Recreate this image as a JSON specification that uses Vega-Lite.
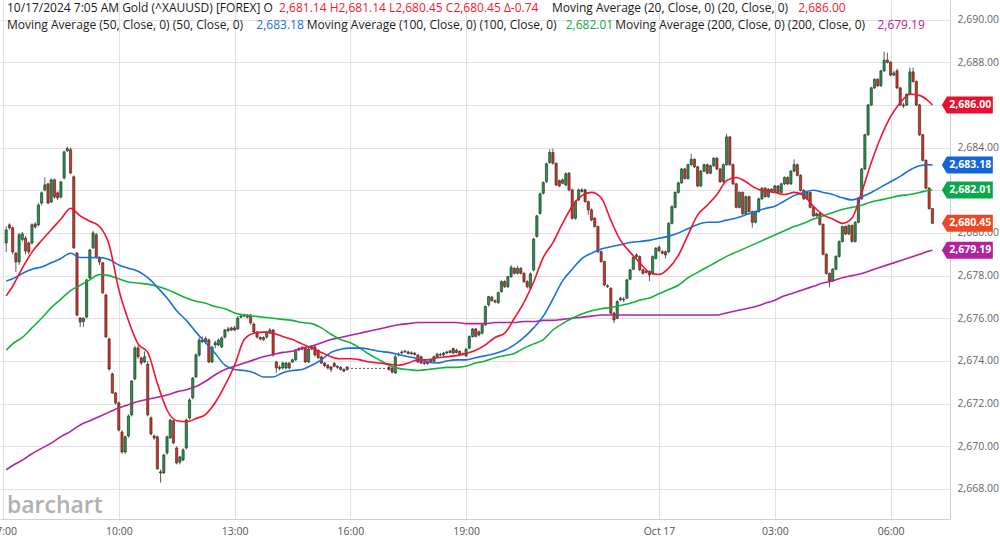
{
"$schema":"https://vega.github.io/schema/vega-lite/v6.json",
"width":950,"height":519,
"autosize":{"type":"none"},
"padding":{"left":0,"top":0,"right":50,"bottom":22},
"background":"white",
"config":{"view":{"stroke":null},"font":"Open Sans",
 "axis":{"title":null,"grid":true,"gridColor":"#e2e2e2","gridWidth":1,"domain":true,"domainColor":"#d0d0d0","ticks":false,"tickSize":0,"labelPadding":7,"labelFontSize":10.5,"labelFont":"Open Sans","labelOverlap":false,"labelFlush":false,"labelBound":false}},
"datasets":{
"candles":[
{"t":"2024-10-16T07:05Z","o":2679.53,"h":2680.3,"l":2679.1,"c":2680.14},
{"t":"2024-10-16T07:10Z","o":2680.38,"h":2680.45,"l":2680.15,"c":2680.24},
{"t":"2024-10-16T07:15Z","o":2680.24,"h":2680.3,"l":2679.0,"c":2679.11},
{"t":"2024-10-16T07:20Z","o":2679.06,"h":2679.1,"l":2678.17,"c":2678.64},
{"t":"2024-10-16T07:25Z","o":2678.64,"h":2680.0,"l":2678.5,"c":2679.91},
{"t":"2024-10-16T07:30Z","o":2679.7,"h":2680.05,"l":2679.6,"c":2679.95},
{"t":"2024-10-16T07:35Z","o":2679.76,"h":2679.85,"l":2679.0,"c":2679.15},
{"t":"2024-10-16T07:40Z","o":2679.53,"h":2679.6,"l":2679.0,"c":2679.11},
{"t":"2024-10-16T07:45Z","o":2679.53,"h":2680.45,"l":2679.45,"c":2680.38},
{"t":"2024-10-16T07:50Z","o":2680.42,"h":2680.5,"l":2680.2,"c":2680.28},
{"t":"2024-10-16T07:55Z","o":2680.38,"h":2681.4,"l":2680.3,"c":2681.31},
{"t":"2024-10-16T08:00Z","o":2681.4,"h":2681.95,"l":2681.3,"c":2681.88},
{"t":"2024-10-16T08:05Z","o":2682.02,"h":2682.6,"l":2681.95,"c":2682.25},
{"t":"2024-10-16T08:10Z","o":2682.3,"h":2682.35,"l":2681.35,"c":2681.4},
{"t":"2024-10-16T08:15Z","o":2681.45,"h":2682.55,"l":2681.4,"c":2682.49},
{"t":"2024-10-16T08:20Z","o":2682.49,"h":2682.55,"l":2681.6,"c":2681.69},
{"t":"2024-10-16T08:25Z","o":2681.88,"h":2681.95,"l":2681.55,"c":2681.64},
{"t":"2024-10-16T08:30Z","o":2681.69,"h":2682.45,"l":2681.6,"c":2682.39},
{"t":"2024-10-16T08:35Z","o":2682.58,"h":2683.85,"l":2682.5,"c":2683.8},
{"t":"2024-10-16T08:40Z","o":2683.85,"h":2684.05,"l":2683.8,"c":2683.95},
{"t":"2024-10-16T08:45Z","o":2683.9,"h":2684.0,"l":2682.75,"c":2682.81},
{"t":"2024-10-16T08:50Z","o":2682.63,"h":2682.7,"l":2679.25,"c":2679.3},
{"t":"2024-10-16T08:55Z","o":2679.06,"h":2679.1,"l":2676.1,"c":2676.15},
{"t":"2024-10-16T09:00Z","o":2676.01,"h":2676.05,"l":2675.59,"c":2675.82},
{"t":"2024-10-16T09:05Z","o":2675.85,"h":2676.05,"l":2675.6,"c":2676.0},
{"t":"2024-10-16T09:10Z","o":2676.06,"h":2677.85,"l":2676.0,"c":2677.8},
{"t":"2024-10-16T09:15Z","o":2677.89,"h":2679.25,"l":2677.85,"c":2679.2},
{"t":"2024-10-16T09:20Z","o":2679.3,"h":2680.1,"l":2679.25,"c":2680.0},
{"t":"2024-10-16T09:25Z","o":2679.91,"h":2680.0,"l":2678.8,"c":2678.83},
{"t":"2024-10-16T09:30Z","o":2678.83,"h":2678.9,"l":2678.5,"c":2678.64},
{"t":"2024-10-16T09:35Z","o":2678.6,"h":2678.65,"l":2677.15,"c":2677.19},
{"t":"2024-10-16T09:40Z","o":2677.09,"h":2677.15,"l":2675.1,"c":2675.12},
{"t":"2024-10-16T09:45Z","o":2675.03,"h":2675.1,"l":2673.55,"c":2673.62},
{"t":"2024-10-16T09:50Z","o":2673.39,"h":2673.45,"l":2672.45,"c":2672.5},
{"t":"2024-10-16T09:55Z","o":2672.5,"h":2672.55,"l":2671.95,"c":2672.03},
{"t":"2024-10-16T10:00Z","o":2672.03,"h":2672.1,"l":2670.7,"c":2670.76},
{"t":"2024-10-16T10:05Z","o":2670.67,"h":2670.75,"l":2669.65,"c":2669.73},
{"t":"2024-10-16T10:10Z","o":2669.73,"h":2670.5,"l":2669.65,"c":2670.44},
{"t":"2024-10-16T10:15Z","o":2670.48,"h":2671.5,"l":2670.4,"c":2671.42},
{"t":"2024-10-16T10:20Z","o":2671.47,"h":2673.1,"l":2671.4,"c":2673.06},
{"t":"2024-10-16T10:25Z","o":2673.16,"h":2674.7,"l":2673.1,"c":2674.61},
{"t":"2024-10-16T10:30Z","o":2674.61,"h":2674.75,"l":2674.1,"c":2674.19},
{"t":"2024-10-16T10:35Z","o":2674.14,"h":2674.2,"l":2673.8,"c":2673.9},
{"t":"2024-10-16T10:40Z","o":2673.95,"h":2674.45,"l":2673.9,"c":2674.2},
{"t":"2024-10-16T10:45Z","o":2673.85,"h":2674.0,"l":2671.4,"c":2671.47},
{"t":"2024-10-16T10:50Z","o":2671.33,"h":2671.4,"l":2670.5,"c":2670.58},
{"t":"2024-10-16T10:55Z","o":2670.48,"h":2670.55,"l":2670.3,"c":2670.39},
{"t":"2024-10-16T11:00Z","o":2670.44,"h":2670.5,"l":2668.9,"c":2668.94},
{"t":"2024-10-16T11:05Z","o":2668.8,"h":2668.9,"l":2668.3,"c":2668.75},
{"t":"2024-10-16T11:10Z","o":2668.75,"h":2669.65,"l":2668.7,"c":2669.59},
{"t":"2024-10-16T11:15Z","o":2669.69,"h":2670.5,"l":2669.6,"c":2670.44},
{"t":"2024-10-16T11:20Z","o":2670.39,"h":2671.3,"l":2670.35,"c":2671.23},
{"t":"2024-10-16T11:25Z","o":2671.19,"h":2671.25,"l":2670.1,"c":2670.16},
{"t":"2024-10-16T11:30Z","o":2669.92,"h":2670.0,"l":2669.15,"c":2669.22},
{"t":"2024-10-16T11:35Z","o":2669.26,"h":2669.55,"l":2669.15,"c":2669.5},
{"t":"2024-10-16T11:40Z","o":2669.36,"h":2669.9,"l":2669.3,"c":2669.83},
{"t":"2024-10-16T11:45Z","o":2669.92,"h":2671.3,"l":2669.85,"c":2671.23},
{"t":"2024-10-16T11:50Z","o":2671.33,"h":2672.25,"l":2671.25,"c":2672.17},
{"t":"2024-10-16T11:55Z","o":2672.27,"h":2673.25,"l":2672.2,"c":2673.2},
{"t":"2024-10-16T12:00Z","o":2673.25,"h":2674.35,"l":2673.2,"c":2674.28},
{"t":"2024-10-16T12:05Z","o":2674.28,"h":2675.1,"l":2674.2,"c":2674.98},
{"t":"2024-10-16T12:10Z","o":2674.98,"h":2675.15,"l":2674.85,"c":2674.9},
{"t":"2024-10-16T12:15Z","o":2675.05,"h":2675.15,"l":2674.8,"c":2674.9},
{"t":"2024-10-16T12:20Z","o":2674.98,"h":2675.05,"l":2673.9,"c":2673.95},
{"t":"2024-10-16T12:25Z","o":2673.95,"h":2674.7,"l":2673.9,"c":2674.65},
{"t":"2024-10-16T12:30Z","o":2674.75,"h":2674.95,"l":2674.6,"c":2674.85},
{"t":"2024-10-16T12:35Z","o":2674.75,"h":2675.05,"l":2674.7,"c":2674.98},
{"t":"2024-10-16T12:40Z","o":2674.66,"h":2675.15,"l":2674.6,"c":2675.08},
{"t":"2024-10-16T12:45Z","o":2675.12,"h":2675.5,"l":2675.05,"c":2675.45},
{"t":"2024-10-16T12:50Z","o":2675.5,"h":2675.6,"l":2675.35,"c":2675.42},
{"t":"2024-10-16T12:55Z","o":2675.45,"h":2675.6,"l":2675.4,"c":2675.55},
{"t":"2024-10-16T13:00Z","o":2675.55,"h":2675.65,"l":2675.4,"c":2675.45},
{"t":"2024-10-16T13:05Z","o":2675.5,"h":2676.1,"l":2675.45,"c":2676.01},
{"t":"2024-10-16T13:10Z","o":2676.05,"h":2676.2,"l":2676.0,"c":2676.1},
{"t":"2024-10-16T13:15Z","o":2676.1,"h":2676.22,"l":2676.05,"c":2676.15},
{"t":"2024-10-16T13:20Z","o":2676.15,"h":2676.2,"l":2676.0,"c":2676.05},
{"t":"2024-10-16T13:25Z","o":2676.15,"h":2676.2,"l":2675.7,"c":2675.78},
{"t":"2024-10-16T13:30Z","o":2675.73,"h":2675.8,"l":2675.3,"c":2675.36},
{"t":"2024-10-16T13:35Z","o":2675.36,"h":2675.4,"l":2675.05,"c":2675.12},
{"t":"2024-10-16T13:40Z","o":2675.1,"h":2675.15,"l":2674.95,"c":2675.03},
{"t":"2024-10-16T13:45Z","o":2675.1,"h":2675.15,"l":2674.95,"c":2675.0},
{"t":"2024-10-16T13:50Z","o":2675.12,"h":2675.4,"l":2675.05,"c":2675.36},
{"t":"2024-10-16T13:55Z","o":2675.31,"h":2675.55,"l":2675.25,"c":2675.45},
{"t":"2024-10-16T14:00Z","o":2675.45,"h":2675.5,"l":2674.2,"c":2674.28},
{"t":"2024-10-16T14:05Z","o":2673.95,"h":2674.0,"l":2673.44,"c":2673.67},
{"t":"2024-10-16T14:10Z","o":2673.65,"h":2673.8,"l":2673.55,"c":2673.7},
{"t":"2024-10-16T14:15Z","o":2673.67,"h":2673.95,"l":2673.6,"c":2673.9},
{"t":"2024-10-16T14:20Z","o":2673.67,"h":2673.95,"l":2673.6,"c":2673.9},
{"t":"2024-10-16T14:25Z","o":2673.9,"h":2673.95,"l":2673.6,"c":2673.67},
{"t":"2024-10-16T14:30Z","o":2673.95,"h":2674.1,"l":2673.9,"c":2674.05},
{"t":"2024-10-16T14:35Z","o":2674.05,"h":2674.55,"l":2674.0,"c":2674.52},
{"t":"2024-10-16T14:40Z","o":2674.52,"h":2674.65,"l":2674.45,"c":2674.58},
{"t":"2024-10-16T14:45Z","o":2674.55,"h":2674.7,"l":2674.5,"c":2674.62},
{"t":"2024-10-16T14:50Z","o":2674.61,"h":2674.65,"l":2673.9,"c":2673.95},
{"t":"2024-10-16T14:55Z","o":2673.95,"h":2674.65,"l":2673.9,"c":2674.56},
{"t":"2024-10-16T15:00Z","o":2674.56,"h":2674.75,"l":2674.5,"c":2674.66},
{"t":"2024-10-16T15:05Z","o":2674.66,"h":2674.7,"l":2674.2,"c":2674.28},
{"t":"2024-10-16T15:10Z","o":2674.5,"h":2674.55,"l":2674.1,"c":2674.15},
{"t":"2024-10-16T15:15Z","o":2674.19,"h":2674.25,"l":2673.85,"c":2673.9},
{"t":"2024-10-16T15:20Z","o":2673.9,"h":2673.95,"l":2673.7,"c":2673.78},
{"t":"2024-10-16T15:25Z","o":2673.8,"h":2673.85,"l":2673.6,"c":2673.67},
{"t":"2024-10-16T15:30Z","o":2673.72,"h":2673.75,"l":2673.48,"c":2673.6},
{"t":"2024-10-16T15:35Z","o":2673.88,"h":2673.95,"l":2673.7,"c":2673.75},
{"t":"2024-10-16T15:40Z","o":2673.75,"h":2673.8,"l":2673.62,"c":2673.7},
{"t":"2024-10-16T15:45Z","o":2673.7,"h":2673.75,"l":2673.55,"c":2673.6},
{"t":"2024-10-16T15:50Z","o":2673.6,"h":2673.65,"l":2673.48,"c":2673.52},
{"t":"2024-10-16T15:55Z","o":2673.6,"h":2673.75,"l":2673.55,"c":2673.72},
{"t":"2024-10-16T17:00Z","o":2673.7,"h":2673.75,"l":2673.55,"c":2673.6},
{"t":"2024-10-16T17:05Z","o":2673.67,"h":2673.7,"l":2673.4,"c":2673.48},
{"t":"2024-10-16T17:10Z","o":2673.43,"h":2674.3,"l":2673.4,"c":2674.19},
{"t":"2024-10-16T17:15Z","o":2674.28,"h":2674.4,"l":2674.2,"c":2674.33},
{"t":"2024-10-16T17:20Z","o":2674.38,"h":2674.5,"l":2674.3,"c":2674.42},
{"t":"2024-10-16T17:25Z","o":2674.42,"h":2674.52,"l":2674.38,"c":2674.45},
{"t":"2024-10-16T17:30Z","o":2674.42,"h":2674.48,"l":2674.3,"c":2674.35},
{"t":"2024-10-16T17:35Z","o":2674.38,"h":2674.45,"l":2674.28,"c":2674.34},
{"t":"2024-10-16T17:40Z","o":2674.36,"h":2674.42,"l":2674.25,"c":2674.3},
{"t":"2024-10-16T17:45Z","o":2674.28,"h":2674.32,"l":2673.9,"c":2673.95},
{"t":"2024-10-16T17:50Z","o":2674.2,"h":2674.25,"l":2673.85,"c":2673.9},
{"t":"2024-10-16T17:55Z","o":2673.92,"h":2674.0,"l":2673.8,"c":2673.88},
{"t":"2024-10-16T18:00Z","o":2673.95,"h":2674.0,"l":2673.82,"c":2673.88},
{"t":"2024-10-16T18:05Z","o":2673.97,"h":2674.1,"l":2673.9,"c":2674.05},
{"t":"2024-10-16T18:10Z","o":2673.98,"h":2674.25,"l":2673.92,"c":2674.2},
{"t":"2024-10-16T18:15Z","o":2674.2,"h":2674.38,"l":2674.15,"c":2674.32},
{"t":"2024-10-16T18:20Z","o":2674.3,"h":2674.38,"l":2674.22,"c":2674.28},
{"t":"2024-10-16T18:25Z","o":2674.28,"h":2674.42,"l":2674.22,"c":2674.37},
{"t":"2024-10-16T18:30Z","o":2674.37,"h":2674.48,"l":2674.32,"c":2674.42},
{"t":"2024-10-16T18:35Z","o":2674.4,"h":2674.52,"l":2674.35,"c":2674.47},
{"t":"2024-10-16T18:40Z","o":2674.58,"h":2674.62,"l":2674.32,"c":2674.37},
{"t":"2024-10-16T18:45Z","o":2674.4,"h":2674.58,"l":2674.35,"c":2674.5},
{"t":"2024-10-16T18:50Z","o":2674.44,"h":2674.5,"l":2674.22,"c":2674.28},
{"t":"2024-10-16T18:55Z","o":2674.3,"h":2674.4,"l":2674.25,"c":2674.34},
{"t":"2024-10-16T19:00Z","o":2674.23,"h":2674.6,"l":2674.2,"c":2674.55},
{"t":"2024-10-16T19:05Z","o":2674.6,"h":2675.2,"l":2674.55,"c":2675.14},
{"t":"2024-10-16T19:10Z","o":2675.14,"h":2675.55,"l":2675.1,"c":2675.49},
{"t":"2024-10-16T19:15Z","o":2675.5,"h":2675.55,"l":2675.1,"c":2675.15},
{"t":"2024-10-16T19:20Z","o":2675.22,"h":2675.42,"l":2675.15,"c":2675.37},
{"t":"2024-10-16T19:25Z","o":2675.3,"h":2675.75,"l":2675.25,"c":2675.69},
{"t":"2024-10-16T19:30Z","o":2675.69,"h":2676.6,"l":2675.65,"c":2676.55},
{"t":"2024-10-16T19:35Z","o":2676.63,"h":2677.05,"l":2676.55,"c":2677.01},
{"t":"2024-10-16T19:40Z","o":2676.99,"h":2677.05,"l":2676.78,"c":2676.83},
{"t":"2024-10-16T19:45Z","o":2676.82,"h":2676.88,"l":2676.7,"c":2676.77},
{"t":"2024-10-16T19:50Z","o":2676.73,"h":2677.25,"l":2676.68,"c":2677.2},
{"t":"2024-10-16T19:55Z","o":2677.25,"h":2677.78,"l":2677.2,"c":2677.72},
{"t":"2024-10-16T20:00Z","o":2677.72,"h":2677.78,"l":2677.42,"c":2677.48},
{"t":"2024-10-16T20:05Z","o":2677.48,"h":2678.0,"l":2677.42,"c":2677.95},
{"t":"2024-10-16T20:10Z","o":2677.95,"h":2678.5,"l":2677.9,"c":2678.39},
{"t":"2024-10-16T20:15Z","o":2678.34,"h":2678.4,"l":2678.05,"c":2678.11},
{"t":"2024-10-16T20:20Z","o":2678.11,"h":2678.45,"l":2678.05,"c":2678.34},
{"t":"2024-10-16T20:25Z","o":2678.34,"h":2678.4,"l":2678.05,"c":2678.11},
{"t":"2024-10-16T20:30Z","o":2678.11,"h":2678.15,"l":2677.65,"c":2677.72},
{"t":"2024-10-16T20:35Z","o":2677.72,"h":2677.78,"l":2677.4,"c":2677.48},
{"t":"2024-10-16T20:40Z","o":2677.41,"h":2678.15,"l":2677.35,"c":2678.08},
{"t":"2024-10-16T20:45Z","o":2678.27,"h":2679.78,"l":2678.2,"c":2679.71},
{"t":"2024-10-16T20:50Z","o":2679.83,"h":2680.85,"l":2679.78,"c":2680.8},
{"t":"2024-10-16T20:55Z","o":2680.92,"h":2681.9,"l":2680.85,"c":2681.83},
{"t":"2024-10-16T21:00Z","o":2681.86,"h":2682.42,"l":2681.8,"c":2682.36},
{"t":"2024-10-16T21:05Z","o":2682.41,"h":2683.3,"l":2682.35,"c":2683.24},
{"t":"2024-10-16T21:10Z","o":2683.3,"h":2683.92,"l":2683.25,"c":2683.77},
{"t":"2024-10-16T21:15Z","o":2683.77,"h":2683.95,"l":2683.2,"c":2683.27},
{"t":"2024-10-16T21:20Z","o":2683.27,"h":2683.3,"l":2682.2,"c":2682.25},
{"t":"2024-10-16T21:25Z","o":2682.45,"h":2682.5,"l":2682.15,"c":2682.2},
{"t":"2024-10-16T21:30Z","o":2682.33,"h":2682.55,"l":2682.28,"c":2682.49},
{"t":"2024-10-16T21:35Z","o":2682.25,"h":2682.85,"l":2682.2,"c":2682.77},
{"t":"2024-10-16T21:40Z","o":2682.8,"h":2682.85,"l":2681.95,"c":2682.02},
{"t":"2024-10-16T21:45Z","o":2682.02,"h":2682.08,"l":2680.62,"c":2680.69},
{"t":"2024-10-16T21:50Z","o":2680.69,"h":2681.55,"l":2680.62,"c":2681.47},
{"t":"2024-10-16T21:55Z","o":2681.55,"h":2682.08,"l":2681.5,"c":2682.02},
{"t":"2024-10-16T22:00Z","o":2681.95,"h":2682.1,"l":2681.9,"c":2682.02},
{"t":"2024-10-16T22:05Z","o":2682.02,"h":2682.08,"l":2681.42,"c":2681.47},
{"t":"2024-10-16T22:10Z","o":2681.47,"h":2681.52,"l":2680.85,"c":2681.08},
{"t":"2024-10-16T22:15Z","o":2681.08,"h":2681.15,"l":2680.55,"c":2680.61},
{"t":"2024-10-16T22:20Z","o":2680.69,"h":2680.75,"l":2680.25,"c":2680.3},
{"t":"2024-10-16T22:25Z","o":2680.3,"h":2680.35,"l":2679.05,"c":2679.12},
{"t":"2024-10-16T22:30Z","o":2679.12,"h":2679.18,"l":2678.6,"c":2678.66},
{"t":"2024-10-16T22:35Z","o":2678.66,"h":2678.7,"l":2677.5,"c":2677.56},
{"t":"2024-10-16T22:40Z","o":2677.52,"h":2677.6,"l":2677.42,"c":2677.48},
{"t":"2024-10-16T22:45Z","o":2677.41,"h":2677.45,"l":2676.18,"c":2676.24},
{"t":"2024-10-16T22:50Z","o":2676.24,"h":2676.3,"l":2675.77,"c":2675.92},
{"t":"2024-10-16T22:55Z","o":2676.0,"h":2676.85,"l":2675.95,"c":2676.78},
{"t":"2024-10-16T23:00Z","o":2676.86,"h":2677.0,"l":2676.8,"c":2676.94},
{"t":"2024-10-16T23:05Z","o":2676.86,"h":2677.0,"l":2676.75,"c":2676.9},
{"t":"2024-10-16T23:10Z","o":2676.94,"h":2677.85,"l":2676.9,"c":2677.8},
{"t":"2024-10-16T23:15Z","o":2677.83,"h":2678.32,"l":2677.78,"c":2678.27},
{"t":"2024-10-16T23:20Z","o":2678.3,"h":2678.92,"l":2678.25,"c":2678.86},
{"t":"2024-10-16T23:25Z","o":2678.89,"h":2679.05,"l":2678.82,"c":2678.97},
{"t":"2024-10-16T23:30Z","o":2678.89,"h":2678.95,"l":2678.2,"c":2678.27},
{"t":"2024-10-16T23:35Z","o":2678.27,"h":2678.32,"l":2678.05,"c":2678.11},
{"t":"2024-10-16T23:40Z","o":2678.15,"h":2678.3,"l":2678.1,"c":2678.2},
{"t":"2024-10-16T23:45Z","o":2678.2,"h":2678.25,"l":2677.75,"c":2678.03},
{"t":"2024-10-16T23:50Z","o":2678.11,"h":2678.95,"l":2678.05,"c":2678.89},
{"t":"2024-10-16T23:55Z","o":2678.81,"h":2679.35,"l":2678.75,"c":2679.28},
{"t":"2024-10-17T00:00Z","o":2679.33,"h":2679.4,"l":2679.1,"c":2679.17},
{"t":"2024-10-17T00:05Z","o":2679.12,"h":2679.2,"l":2679.0,"c":2679.05},
{"t":"2024-10-17T00:10Z","o":2679.12,"h":2679.18,"l":2678.8,"c":2678.97},
{"t":"2024-10-17T00:15Z","o":2679.12,"h":2680.5,"l":2679.05,"c":2680.45},
{"t":"2024-10-17T00:20Z","o":2680.45,"h":2681.3,"l":2680.4,"c":2681.23},
{"t":"2024-10-17T00:25Z","o":2681.2,"h":2681.95,"l":2681.15,"c":2681.9},
{"t":"2024-10-17T00:30Z","o":2681.9,"h":2682.4,"l":2681.85,"c":2682.35},
{"t":"2024-10-17T00:35Z","o":2682.35,"h":2683.05,"l":2682.3,"c":2683.0},
{"t":"2024-10-17T00:40Z","o":2683.0,"h":2683.05,"l":2682.5,"c":2682.55},
{"t":"2024-10-17T00:45Z","o":2682.55,"h":2683.25,"l":2682.5,"c":2683.2},
{"t":"2024-10-17T00:50Z","o":2683.2,"h":2683.7,"l":2683.15,"c":2683.45},
{"t":"2024-10-17T00:55Z","o":2683.45,"h":2683.5,"l":2683.05,"c":2683.1},
{"t":"2024-10-17T01:00Z","o":2683.1,"h":2683.15,"l":2682.15,"c":2682.2},
{"t":"2024-10-17T01:05Z","o":2682.2,"h":2682.95,"l":2682.15,"c":2682.9},
{"t":"2024-10-17T01:10Z","o":2682.9,"h":2683.25,"l":2682.85,"c":2683.2},
{"t":"2024-10-17T01:15Z","o":2683.2,"h":2683.25,"l":2682.75,"c":2682.8},
{"t":"2024-10-17T01:20Z","o":2682.8,"h":2683.2,"l":2682.75,"c":2683.15},
{"t":"2024-10-17T01:25Z","o":2683.15,"h":2683.55,"l":2683.1,"c":2683.5},
{"t":"2024-10-17T01:30Z","o":2683.5,"h":2683.55,"l":2682.95,"c":2683.0},
{"t":"2024-10-17T01:35Z","o":2683.0,"h":2683.05,"l":2682.35,"c":2682.4},
{"t":"2024-10-17T01:40Z","o":2682.4,"h":2683.25,"l":2682.35,"c":2683.2},
{"t":"2024-10-17T01:45Z","o":2683.2,"h":2684.65,"l":2683.15,"c":2684.5},
{"t":"2024-10-17T01:50Z","o":2684.5,"h":2684.55,"l":2683.15,"c":2683.2},
{"t":"2024-10-17T01:55Z","o":2683.2,"h":2683.25,"l":2682.25,"c":2682.3},
{"t":"2024-10-17T02:00Z","o":2682.3,"h":2682.35,"l":2681.15,"c":2681.2},
{"t":"2024-10-17T02:05Z","o":2681.2,"h":2681.95,"l":2681.15,"c":2681.9},
{"t":"2024-10-17T02:10Z","o":2681.9,"h":2681.95,"l":2680.85,"c":2680.9},
{"t":"2024-10-17T02:15Z","o":2680.9,"h":2681.75,"l":2680.85,"c":2681.7},
{"t":"2024-10-17T02:20Z","o":2681.7,"h":2681.75,"l":2680.95,"c":2681.0},
{"t":"2024-10-17T02:25Z","o":2681.0,"h":2681.05,"l":2680.25,"c":2680.5},
{"t":"2024-10-17T02:30Z","o":2680.5,"h":2681.05,"l":2680.45,"c":2681.0},
{"t":"2024-10-17T02:35Z","o":2681.0,"h":2681.65,"l":2680.95,"c":2681.6},
{"t":"2024-10-17T02:40Z","o":2681.6,"h":2682.15,"l":2681.55,"c":2682.1},
{"t":"2024-10-17T02:45Z","o":2682.1,"h":2682.15,"l":2681.65,"c":2681.7},
{"t":"2024-10-17T02:50Z","o":2681.7,"h":2682.1,"l":2681.65,"c":2682.05},
{"t":"2024-10-17T02:55Z","o":2682.05,"h":2682.1,"l":2681.9,"c":2681.95},
{"t":"2024-10-17T03:00Z","o":2681.95,"h":2682.25,"l":2681.9,"c":2682.2},
{"t":"2024-10-17T03:05Z","o":2682.2,"h":2682.25,"l":2681.85,"c":2681.9},
{"t":"2024-10-17T03:10Z","o":2681.9,"h":2682.35,"l":2681.85,"c":2682.3},
{"t":"2024-10-17T03:15Z","o":2682.3,"h":2682.65,"l":2682.25,"c":2682.6},
{"t":"2024-10-17T03:20Z","o":2682.6,"h":2682.65,"l":2682.25,"c":2682.3},
{"t":"2024-10-17T03:25Z","o":2682.3,"h":2682.95,"l":2682.25,"c":2682.9},
{"t":"2024-10-17T03:30Z","o":2682.9,"h":2683.45,"l":2682.85,"c":2683.2},
{"t":"2024-10-17T03:35Z","o":2683.2,"h":2683.25,"l":2682.65,"c":2682.7},
{"t":"2024-10-17T03:40Z","o":2682.7,"h":2682.75,"l":2681.95,"c":2682.0},
{"t":"2024-10-17T03:45Z","o":2682.0,"h":2682.05,"l":2681.55,"c":2681.6},
{"t":"2024-10-17T03:50Z","o":2681.6,"h":2681.95,"l":2681.55,"c":2681.9},
{"t":"2024-10-17T03:55Z","o":2681.9,"h":2681.95,"l":2681.15,"c":2681.2},
{"t":"2024-10-17T04:00Z","o":2681.2,"h":2681.25,"l":2680.75,"c":2680.8},
{"t":"2024-10-17T04:05Z","o":2680.8,"h":2680.95,"l":2680.75,"c":2680.9},
{"t":"2024-10-17T04:10Z","o":2680.9,"h":2680.95,"l":2680.35,"c":2680.4},
{"t":"2024-10-17T04:15Z","o":2680.4,"h":2680.45,"l":2678.95,"c":2679.0},
{"t":"2024-10-17T04:20Z","o":2679.0,"h":2679.05,"l":2678.05,"c":2678.1},
{"t":"2024-10-17T04:25Z","o":2678.1,"h":2678.15,"l":2677.45,"c":2677.75},
{"t":"2024-10-17T04:30Z","o":2677.75,"h":2678.35,"l":2677.7,"c":2678.3},
{"t":"2024-10-17T04:35Z","o":2678.3,"h":2678.95,"l":2678.25,"c":2678.9},
{"t":"2024-10-17T04:40Z","o":2678.9,"h":2679.65,"l":2678.85,"c":2679.6},
{"t":"2024-10-17T04:45Z","o":2679.6,"h":2680.35,"l":2679.55,"c":2680.3},
{"t":"2024-10-17T04:50Z","o":2680.3,"h":2680.35,"l":2679.9,"c":2679.95},
{"t":"2024-10-17T04:55Z","o":2679.95,"h":2680.4,"l":2679.9,"c":2680.35},
{"t":"2024-10-17T05:00Z","o":2680.35,"h":2680.4,"l":2679.55,"c":2679.6},
{"t":"2024-10-17T05:05Z","o":2679.6,"h":2680.55,"l":2679.55,"c":2680.5},
{"t":"2024-10-17T05:10Z","o":2680.5,"h":2681.65,"l":2680.45,"c":2681.6},
{"t":"2024-10-17T05:15Z","o":2681.6,"h":2683.05,"l":2681.55,"c":2683.0},
{"t":"2024-10-17T05:20Z","o":2683.0,"h":2684.65,"l":2682.95,"c":2684.6},
{"t":"2024-10-17T05:25Z","o":2684.6,"h":2686.05,"l":2684.55,"c":2686.0},
{"t":"2024-10-17T05:30Z","o":2686.0,"h":2686.85,"l":2685.95,"c":2686.8},
{"t":"2024-10-17T05:35Z","o":2686.8,"h":2687.25,"l":2686.75,"c":2687.2},
{"t":"2024-10-17T05:40Z","o":2687.2,"h":2687.25,"l":2686.85,"c":2686.9},
{"t":"2024-10-17T05:45Z","o":2686.9,"h":2687.65,"l":2686.85,"c":2687.6},
{"t":"2024-10-17T05:50Z","o":2687.6,"h":2688.5,"l":2687.55,"c":2688.1},
{"t":"2024-10-17T05:55Z","o":2688.1,"h":2688.45,"l":2687.95,"c":2688.0},
{"t":"2024-10-17T06:00Z","o":2688.0,"h":2688.05,"l":2687.35,"c":2687.4},
{"t":"2024-10-17T06:05Z","o":2687.4,"h":2687.6,"l":2687.35,"c":2687.5},
{"t":"2024-10-17T06:10Z","o":2687.6,"h":2687.7,"l":2686.75,"c":2686.8},
{"t":"2024-10-17T06:15Z","o":2686.8,"h":2686.85,"l":2685.95,"c":2686.0},
{"t":"2024-10-17T06:20Z","o":2686.0,"h":2686.1,"l":2685.85,"c":2685.95},
{"t":"2024-10-17T06:25Z","o":2686.0,"h":2686.55,"l":2685.95,"c":2686.5},
{"t":"2024-10-17T06:30Z","o":2686.5,"h":2687.75,"l":2686.45,"c":2687.55},
{"t":"2024-10-17T06:35Z","o":2687.55,"h":2687.75,"l":2687.05,"c":2687.1},
{"t":"2024-10-17T06:40Z","o":2687.1,"h":2687.15,"l":2685.95,"c":2686.0},
{"t":"2024-10-17T06:45Z","o":2686.0,"h":2686.05,"l":2684.55,"c":2684.6},
{"t":"2024-10-17T06:50Z","o":2684.6,"h":2684.65,"l":2683.35,"c":2683.4},
{"t":"2024-10-17T06:55Z","o":2683.4,"h":2683.45,"l":2682.05,"c":2682.1},
{"t":"2024-10-17T07:00Z","o":2682.1,"h":2682.15,"l":2681.1,"c":2681.14},
{"t":"2024-10-17T07:05Z","o":2681.14,"h":2681.14,"l":2680.45,"c":2680.45}
],
"ma":[
{"t":"2024-10-16T07:05Z","m20":2677.05,"m50":2677.75,"m100":2674.5,"m200":2668.9},
{"t":"2024-10-16T07:15Z","m20":2677.5,"m50":2677.85,"m100":2674.8,"m200":2669.1},
{"t":"2024-10-16T07:30Z","m20":2678.35,"m50":2678.1,"m100":2675.1,"m200":2669.35},
{"t":"2024-10-16T07:45Z","m20":2679.1,"m50":2678.3,"m100":2675.55,"m200":2669.65},
{"t":"2024-10-16T08:00Z","m20":2679.65,"m50":2678.4,"m100":2676.0,"m200":2669.9},
{"t":"2024-10-16T08:15Z","m20":2680.15,"m50":2678.6,"m100":2676.5,"m200":2670.15},
{"t":"2024-10-16T08:30Z","m20":2680.65,"m50":2678.8,"m100":2676.9,"m200":2670.45},
{"t":"2024-10-16T08:45Z","m20":2681.15,"m50":2679.05,"m100":2677.3,"m200":2670.7},
{"t":"2024-10-16T09:00Z","m20":2680.8,"m50":2678.85,"m100":2677.55,"m200":2671.0},
{"t":"2024-10-16T09:15Z","m20":2680.55,"m50":2678.85,"m100":2677.8,"m200":2671.2},
{"t":"2024-10-16T09:30Z","m20":2680.3,"m50":2678.85,"m100":2678.05,"m200":2671.4},
{"t":"2024-10-16T09:45Z","m20":2679.45,"m50":2678.75,"m100":2678.0,"m200":2671.6},
{"t":"2024-10-16T10:00Z","m20":2677.35,"m50":2678.5,"m100":2677.85,"m200":2671.8},
{"t":"2024-10-16T10:15Z","m20":2675.9,"m50":2678.35,"m100":2677.7,"m200":2671.95},
{"t":"2024-10-16T10:30Z","m20":2674.8,"m50":2678.2,"m100":2677.65,"m200":2672.1},
{"t":"2024-10-16T10:45Z","m20":2674.4,"m50":2677.9,"m100":2677.6,"m200":2672.2},
{"t":"2024-10-16T11:00Z","m20":2672.95,"m50":2677.45,"m100":2677.5,"m200":2672.3},
{"t":"2024-10-16T11:15Z","m20":2671.7,"m50":2676.95,"m100":2677.35,"m200":2672.4},
{"t":"2024-10-16T11:30Z","m20":2671.2,"m50":2676.35,"m100":2677.15,"m200":2672.55},
{"t":"2024-10-16T11:45Z","m20":2671.15,"m50":2675.9,"m100":2676.95,"m200":2672.65},
{"t":"2024-10-16T12:00Z","m20":2671.3,"m50":2675.35,"m100":2676.8,"m200":2672.8},
{"t":"2024-10-16T12:15Z","m20":2671.5,"m50":2674.85,"m100":2676.7,"m200":2673.05},
{"t":"2024-10-16T12:30Z","m20":2672.05,"m50":2674.35,"m100":2676.55,"m200":2673.35},
{"t":"2024-10-16T12:45Z","m20":2672.85,"m50":2673.8,"m100":2676.45,"m200":2673.6},
{"t":"2024-10-16T13:00Z","m20":2673.8,"m50":2673.6,"m100":2676.25,"m200":2673.75},
{"t":"2024-10-16T13:15Z","m20":2675.0,"m50":2673.55,"m100":2676.15,"m200":2673.9},
{"t":"2024-10-16T13:30Z","m20":2675.3,"m50":2673.45,"m100":2676.1,"m200":2674.05},
{"t":"2024-10-16T13:45Z","m20":2675.35,"m50":2673.25,"m100":2676.05,"m200":2674.2},
{"t":"2024-10-16T14:00Z","m20":2675.3,"m50":2673.25,"m100":2676.0,"m200":2674.3},
{"t":"2024-10-16T14:15Z","m20":2675.15,"m50":2673.45,"m100":2675.95,"m200":2674.4},
{"t":"2024-10-16T14:30Z","m20":2675.0,"m50":2673.55,"m100":2675.9,"m200":2674.45},
{"t":"2024-10-16T14:45Z","m20":2674.8,"m50":2673.6,"m100":2675.8,"m200":2674.6},
{"t":"2024-10-16T15:00Z","m20":2674.6,"m50":2673.8,"m100":2675.75,"m200":2674.7},
{"t":"2024-10-16T15:15Z","m20":2674.4,"m50":2674.05,"m100":2675.55,"m200":2674.85},
{"t":"2024-10-16T15:30Z","m20":2674.2,"m50":2674.4,"m100":2675.25,"m200":2675.0},
{"t":"2024-10-16T15:45Z","m20":2674.1,"m50":2674.55,"m100":2675.0,"m200":2675.1},
{"t":"2024-10-16T16:00Z","m20":2674.1,"m50":2674.6,"m100":2674.85,"m200":2675.2},
{"t":"2024-10-16T16:15Z","m20":2674.05,"m50":2674.6,"m100":2674.6,"m200":2675.3},
{"t":"2024-10-16T16:30Z","m20":2673.95,"m50":2674.55,"m100":2674.3,"m200":2675.4},
{"t":"2024-10-16T16:45Z","m20":2673.9,"m50":2674.45,"m100":2674.05,"m200":2675.5},
{"t":"2024-10-16T17:00Z","m20":2673.85,"m50":2674.4,"m100":2673.8,"m200":2675.6},
{"t":"2024-10-16T17:15Z","m20":2673.8,"m50":2674.3,"m100":2673.65,"m200":2675.7},
{"t":"2024-10-16T17:30Z","m20":2673.9,"m50":2674.2,"m100":2673.6,"m200":2675.75},
{"t":"2024-10-16T17:45Z","m20":2674.05,"m50":2674.1,"m100":2673.55,"m200":2675.8},
{"t":"2024-10-16T18:00Z","m20":2674.05,"m50":2673.95,"m100":2673.6,"m200":2675.8},
{"t":"2024-10-16T18:15Z","m20":2674.15,"m50":2673.9,"m100":2673.65,"m200":2675.8},
{"t":"2024-10-16T18:30Z","m20":2674.2,"m50":2674.0,"m100":2673.7,"m200":2675.8},
{"t":"2024-10-16T18:45Z","m20":2674.25,"m50":2674.05,"m100":2673.7,"m200":2675.8},
{"t":"2024-10-16T19:00Z","m20":2674.35,"m50":2674.05,"m100":2673.75,"m200":2675.75},
{"t":"2024-10-16T19:15Z","m20":2674.5,"m50":2674.15,"m100":2673.9,"m200":2675.75},
{"t":"2024-10-16T19:30Z","m20":2674.75,"m50":2674.25,"m100":2674.0,"m200":2675.75},
{"t":"2024-10-16T19:45Z","m20":2675.1,"m50":2674.35,"m100":2674.15,"m200":2675.8},
{"t":"2024-10-16T20:00Z","m20":2675.3,"m50":2674.5,"m100":2674.25,"m200":2675.8},
{"t":"2024-10-16T20:15Z","m20":2676.0,"m50":2674.75,"m100":2674.35,"m200":2675.8},
{"t":"2024-10-16T20:30Z","m20":2676.75,"m50":2675.1,"m100":2674.6,"m200":2675.85},
{"t":"2024-10-16T20:45Z","m20":2677.7,"m50":2675.55,"m100":2674.8,"m200":2675.85},
{"t":"2024-10-16T21:00Z","m20":2678.85,"m50":2676.1,"m100":2675.0,"m200":2675.9},
{"t":"2024-10-16T21:15Z","m20":2679.55,"m50":2676.9,"m100":2675.45,"m200":2675.9},
{"t":"2024-10-16T21:30Z","m20":2680.45,"m50":2677.75,"m100":2675.75,"m200":2675.95},
{"t":"2024-10-16T21:45Z","m20":2681.25,"m50":2678.3,"m100":2676.0,"m200":2676.0},
{"t":"2024-10-16T22:00Z","m20":2681.75,"m50":2678.8,"m100":2676.2,"m200":2676.05},
{"t":"2024-10-16T22:15Z","m20":2681.9,"m50":2679.05,"m100":2676.35,"m200":2676.1},
{"t":"2024-10-16T22:30Z","m20":2681.65,"m50":2679.25,"m100":2676.45,"m200":2676.15},
{"t":"2024-10-16T22:45Z","m20":2680.6,"m50":2679.35,"m100":2676.5,"m200":2676.15},
{"t":"2024-10-16T23:00Z","m20":2679.65,"m50":2679.45,"m100":2676.6,"m200":2676.15},
{"t":"2024-10-16T23:15Z","m20":2679.1,"m50":2679.55,"m100":2676.7,"m200":2676.15},
{"t":"2024-10-16T23:30Z","m20":2678.6,"m50":2679.6,"m100":2676.85,"m200":2676.15},
{"t":"2024-10-16T23:45Z","m20":2678.15,"m50":2679.65,"m100":2676.95,"m200":2676.15},
{"t":"2024-10-17T00:00Z","m20":2678.05,"m50":2679.75,"m100":2677.15,"m200":2676.15},
{"t":"2024-10-17T00:15Z","m20":2678.35,"m50":2679.85,"m100":2677.35,"m200":2676.15},
{"t":"2024-10-17T00:30Z","m20":2678.95,"m50":2680.0,"m100":2677.55,"m200":2676.15},
{"t":"2024-10-17T00:45Z","m20":2679.9,"m50":2680.2,"m100":2677.9,"m200":2676.15},
{"t":"2024-10-17T01:00Z","m20":2680.85,"m50":2680.4,"m100":2678.15,"m200":2676.15},
{"t":"2024-10-17T01:15Z","m20":2681.3,"m50":2680.5,"m100":2678.4,"m200":2676.15},
{"t":"2024-10-17T01:30Z","m20":2681.8,"m50":2680.5,"m100":2678.65,"m200":2676.15},
{"t":"2024-10-17T01:45Z","m20":2682.45,"m50":2680.6,"m100":2678.9,"m200":2676.25},
{"t":"2024-10-17T02:00Z","m20":2682.6,"m50":2680.7,"m100":2679.1,"m200":2676.35},
{"t":"2024-10-17T02:15Z","m20":2682.4,"m50":2680.85,"m100":2679.3,"m200":2676.45},
{"t":"2024-10-17T02:30Z","m20":2682.1,"m50":2681.0,"m100":2679.5,"m200":2676.55},
{"t":"2024-10-17T02:45Z","m20":2681.95,"m50":2681.15,"m100":2679.7,"m200":2676.7},
{"t":"2024-10-17T03:00Z","m20":2681.9,"m50":2681.25,"m100":2679.9,"m200":2676.85},
{"t":"2024-10-17T03:15Z","m20":2681.8,"m50":2681.5,"m100":2680.1,"m200":2677.05},
{"t":"2024-10-17T03:30Z","m20":2681.9,"m50":2681.75,"m100":2680.3,"m200":2677.2},
{"t":"2024-10-17T03:45Z","m20":2681.75,"m50":2681.9,"m100":2680.45,"m200":2677.35},
{"t":"2024-10-17T04:00Z","m20":2681.25,"m50":2682.0,"m100":2680.65,"m200":2677.5},
{"t":"2024-10-17T04:15Z","m20":2680.85,"m50":2681.9,"m100":2680.8,"m200":2677.65},
{"t":"2024-10-17T04:30Z","m20":2680.65,"m50":2681.8,"m100":2680.95,"m200":2677.75},
{"t":"2024-10-17T04:45Z","m20":2680.45,"m50":2681.65,"m100":2681.1,"m200":2677.9},
{"t":"2024-10-17T05:00Z","m20":2680.7,"m50":2681.55,"m100":2681.2,"m200":2678.0},
{"t":"2024-10-17T05:15Z","m20":2681.9,"m50":2681.7,"m100":2681.3,"m200":2678.1},
{"t":"2024-10-17T05:30Z","m20":2683.3,"m50":2681.9,"m100":2681.45,"m200":2678.25},
{"t":"2024-10-17T05:45Z","m20":2684.5,"m50":2682.15,"m100":2681.55,"m200":2678.4},
{"t":"2024-10-17T06:00Z","m20":2685.45,"m50":2682.4,"m100":2681.65,"m200":2678.55},
{"t":"2024-10-17T06:15Z","m20":2686.1,"m50":2682.65,"m100":2681.75,"m200":2678.7},
{"t":"2024-10-17T06:30Z","m20":2686.5,"m50":2682.95,"m100":2681.8,"m200":2678.85},
{"t":"2024-10-17T06:45Z","m20":2686.45,"m50":2683.15,"m100":2681.9,"m200":2679.0},
{"t":"2024-10-17T07:00Z","m20":2686.15,"m50":2683.2,"m100":2682.0,"m200":2679.15},
{"t":"2024-10-17T07:05Z","m20":2686.0,"m50":2683.18,"m100":2682.01,"m200":2679.19}
],
"gap":[
{"t":"2024-10-16T15:55Z","v":2673.65},
{"t":"2024-10-16T17:00Z","v":2673.65}
],
"tags":[
{"k":"m20","v":2686.0,"lbl":"2,686.00"},
{"k":"m50","v":2683.18,"lbl":"2,683.18"},
{"k":"m100","v":2682.01,"lbl":"2,682.01"},
{"k":"last","v":2680.45,"lbl":"2,680.45"},
{"k":"m200","v":2679.19,"lbl":"2,679.19"}
]
},
"layer":[
{"data":{"name":"candles"},
 "mark":{"type":"rule","color":"#333333","strokeWidth":0.8},
 "encoding":{
  "x":{"field":"t","type":"temporal","title":null,
   "scale":{"type":"utc","domain":[{"year":2024,"month":10,"date":16,"hours":7,"minutes":3,"seconds":5,"utc":true},{"year":2024,"month":10,"date":17,"hours":7,"minutes":24,"seconds":37,"utc":true}]},
   "axis":{"values":[
     {"year":2024,"month":10,"date":16,"hours":7,"utc":true},
     {"year":2024,"month":10,"date":16,"hours":10,"utc":true},
     {"year":2024,"month":10,"date":16,"hours":13,"utc":true},
     {"year":2024,"month":10,"date":16,"hours":16,"utc":true},
     {"year":2024,"month":10,"date":16,"hours":19,"utc":true},
     {"year":2024,"month":10,"date":17,"hours":0,"utc":true},
     {"year":2024,"month":10,"date":17,"hours":3,"utc":true},
     {"year":2024,"month":10,"date":17,"hours":6,"utc":true}],
    "labelExpr":"utchours(datum.value) == 0 ? utcFormat(datum.value, '%b %d') : utcFormat(datum.value, '%H:%M')",
    "labelColor":"#555555"}},
  "y":{"field":"l","type":"quantitative","title":null,
   "scale":{"domain":[2666.59,2690.92],"zero":false,"nice":false},
   "axis":{"orient":"right","values":[2668,2670,2672,2674,2676,2678,2680,2682,2684,2686,2688,2690],
    "labelExpr":"datum.value == 2682 || datum.value == 2686 ? '' : format(datum.value, ',.2f')",
    "labelColor":"#666666"}},
  "y2":{"field":"h"}}},
{"data":{"name":"candles"},
 "mark":{"type":"bar","size":2.2,"stroke":"#222222","strokeWidth":0.6},
 "encoding":{
  "x":{"field":"t","type":"temporal","title":null},
  "y":{"field":"o","type":"quantitative","title":null},
  "y2":{"field":"c"},
  "fill":{"condition":{"test":"datum.c >= datum.o","value":"#1f9a48"},"value":"#de321d"}}},
{"data":{"name":"ma"},
 "transform":[{"fold":["m200","m100","m50","m20"],"as":["k","v"]}],
 "mark":{"type":"line","strokeWidth":1.6,"interpolate":"monotone"},
 "encoding":{
  "x":{"field":"t","type":"temporal","title":null},
  "y":{"field":"v","type":"quantitative","title":null},
  "stroke":{"field":"k","type":"nominal","legend":null,
   "scale":{"domain":["m20","m50","m100","m200"],"range":["#f5122f","#1a6fd8","#12b23c","#b3229f"]}}}},
{"data":{"name":"gap"},
 "mark":{"type":"line","strokeDash":[2,2],"color":"#555555","strokeWidth":1},
 "encoding":{
  "x":{"field":"t","type":"temporal","title":null},
  "y":{"field":"v","type":"quantitative","title":null}}},
{"data":{"name":"tags"},
 "mark":{"type":"point","shape":"M -1 0 L -0.8 -0.333 L 1 -0.333 L 1 0.333 L -0.8 0.333 Z","size":2601,"filled":true,"opacity":1,"strokeWidth":0},
 "encoding":{
  "x":{"datum":{"year":2024,"month":10,"date":17,"hours":7,"minutes":59,"seconds":20,"utc":true},"type":"temporal","title":null},
  "y":{"field":"v","type":"quantitative","title":null},
  "fill":{"field":"k","type":"nominal","legend":null,
   "scale":{"domain":["m20","m50","m100","m200","last"],"range":["#e8102e","#1565d8","#0aa84a","#b0229e","#ec4a27"]}}}},
{"data":{"name":"tags"},
 "mark":{"type":"text","color":"white","font":"Open Sans","fontWeight":"bold","fontSize":10.5,"align":"center","baseline":"middle","dx":3},
 "encoding":{
  "x":{"datum":{"year":2024,"month":10,"date":17,"hours":7,"minutes":59,"seconds":20,"utc":true},"type":"temporal","title":null},
  "y":{"field":"v","type":"quantitative","title":null},
  "text":{"field":"lbl"}}},
{"data":{"values":[{}]},
 "mark":{"type":"text","text":"10/17/2024 7:05 AM  Gold (^XAUUSD) [FOREX]  O","color":"#1a1a1a","font":"Open Sans","fontSize":12,"align":"left","baseline":"middle"},
 "encoding":{"x":{"datum":{"year":2024,"month":10,"date":16,"hours":7,"minutes":6,"seconds":9,"utc":true},"type":"temporal","title":null},"y":{"datum":2690.55,"type":"quantitative","title":null}}},
{"data":{"values":[{}]},
 "mark":{"type":"text","text":"2,681.14 H2,681.14 L2,680.45 C2,680.45 Δ-0.74","color":"#ee1b2e","font":"Open Sans","fontSize":12,"align":"left","baseline":"middle"},
 "encoding":{"x":{"datum":{"year":2024,"month":10,"date":16,"hours":14,"minutes":9,"seconds":14,"utc":true},"type":"temporal","title":null},"y":{"datum":2690.55,"type":"quantitative","title":null}}},
{"data":{"values":[{}]},
 "mark":{"type":"text","text":"Moving Average (20, Close, 0)  (20, Close, 0)","color":"#1a1a1a","font":"Open Sans","fontSize":12,"align":"left","baseline":"middle"},
 "encoding":{"x":{"datum":{"year":2024,"month":10,"date":16,"hours":21,"minutes":13,"seconds":23,"utc":true},"type":"temporal","title":null},"y":{"datum":2690.55,"type":"quantitative","title":null}}},
{"data":{"values":[{}]},
 "mark":{"type":"text","text":"2,686.00","color":"#ee1b2e","font":"Open Sans","fontSize":12,"align":"left","baseline":"middle"},
 "encoding":{"x":{"datum":{"year":2024,"month":10,"date":17,"hours":3,"minutes":36,"seconds":29,"utc":true},"type":"temporal","title":null},"y":{"datum":2690.55,"type":"quantitative","title":null}}},
{"data":{"values":[{}]},
 "mark":{"type":"text","text":"Moving Average (50, Close, 0)  (50, Close, 0)","color":"#1a1a1a","font":"Open Sans","fontSize":12,"align":"left","baseline":"middle"},
 "encoding":{"x":{"datum":{"year":2024,"month":10,"date":16,"hours":7,"minutes":6,"seconds":9,"utc":true},"type":"temporal","title":null},"y":{"datum":2689.75,"type":"quantitative","title":null}}},
{"data":{"values":[{}]},
 "mark":{"type":"text","text":"2,683.18","color":"#1a6fd8","font":"Open Sans","fontSize":12,"align":"left","baseline":"middle"},
 "encoding":{"x":{"datum":{"year":2024,"month":10,"date":16,"hours":13,"minutes":33,"seconds":51,"utc":true},"type":"temporal","title":null},"y":{"datum":2689.75,"type":"quantitative","title":null}}},
{"data":{"values":[{}]},
 "mark":{"type":"text","text":"Moving Average (100, Close, 0)  (100, Close, 0)","color":"#1a1a1a","font":"Open Sans","fontSize":12,"align":"left","baseline":"middle"},
 "encoding":{"x":{"datum":{"year":2024,"month":10,"date":16,"hours":14,"minutes":52,"seconds":18,"utc":true},"type":"temporal","title":null},"y":{"datum":2689.75,"type":"quantitative","title":null}}},
{"data":{"values":[{}]},
 "mark":{"type":"text","text":"2,682.01","color":"#12a83c","font":"Open Sans","fontSize":12,"align":"left","baseline":"middle"},
 "encoding":{"x":{"datum":{"year":2024,"month":10,"date":16,"hours":21,"minutes":34,"seconds":55,"utc":true},"type":"temporal","title":null},"y":{"datum":2689.75,"type":"quantitative","title":null}}},
{"data":{"values":[{}]},
 "mark":{"type":"text","text":"Moving Average (200, Close, 0)  (200, Close, 0)","color":"#1a1a1a","font":"Open Sans","fontSize":12,"align":"left","baseline":"middle"},
 "encoding":{"x":{"datum":{"year":2024,"month":10,"date":16,"hours":22,"minutes":51,"seconds":51,"utc":true},"type":"temporal","title":null},"y":{"datum":2689.75,"type":"quantitative","title":null}}},
{"data":{"values":[{}]},
 "mark":{"type":"text","text":"2,679.19","color":"#b3229f","font":"Open Sans","fontSize":12,"align":"left","baseline":"middle"},
 "encoding":{"x":{"datum":{"year":2024,"month":10,"date":17,"hours":5,"minutes":39,"seconds":32,"utc":true},"type":"temporal","title":null},"y":{"datum":2689.75,"type":"quantitative","title":null}}},
{"data":{"values":[{}]},
 "mark":{"type":"text","text":"barchart","color":"#b0b0b0","font":"Open Sans","fontWeight":600,"fontSize":23,"align":"left","baseline":"alphabetic"},
 "encoding":{"x":{"datum":{"year":2024,"month":10,"date":16,"hours":7,"minutes":6,"utc":true},"type":"temporal","title":null},"y":{"datum":2666.87,"type":"quantitative","title":null}}}
]
}
